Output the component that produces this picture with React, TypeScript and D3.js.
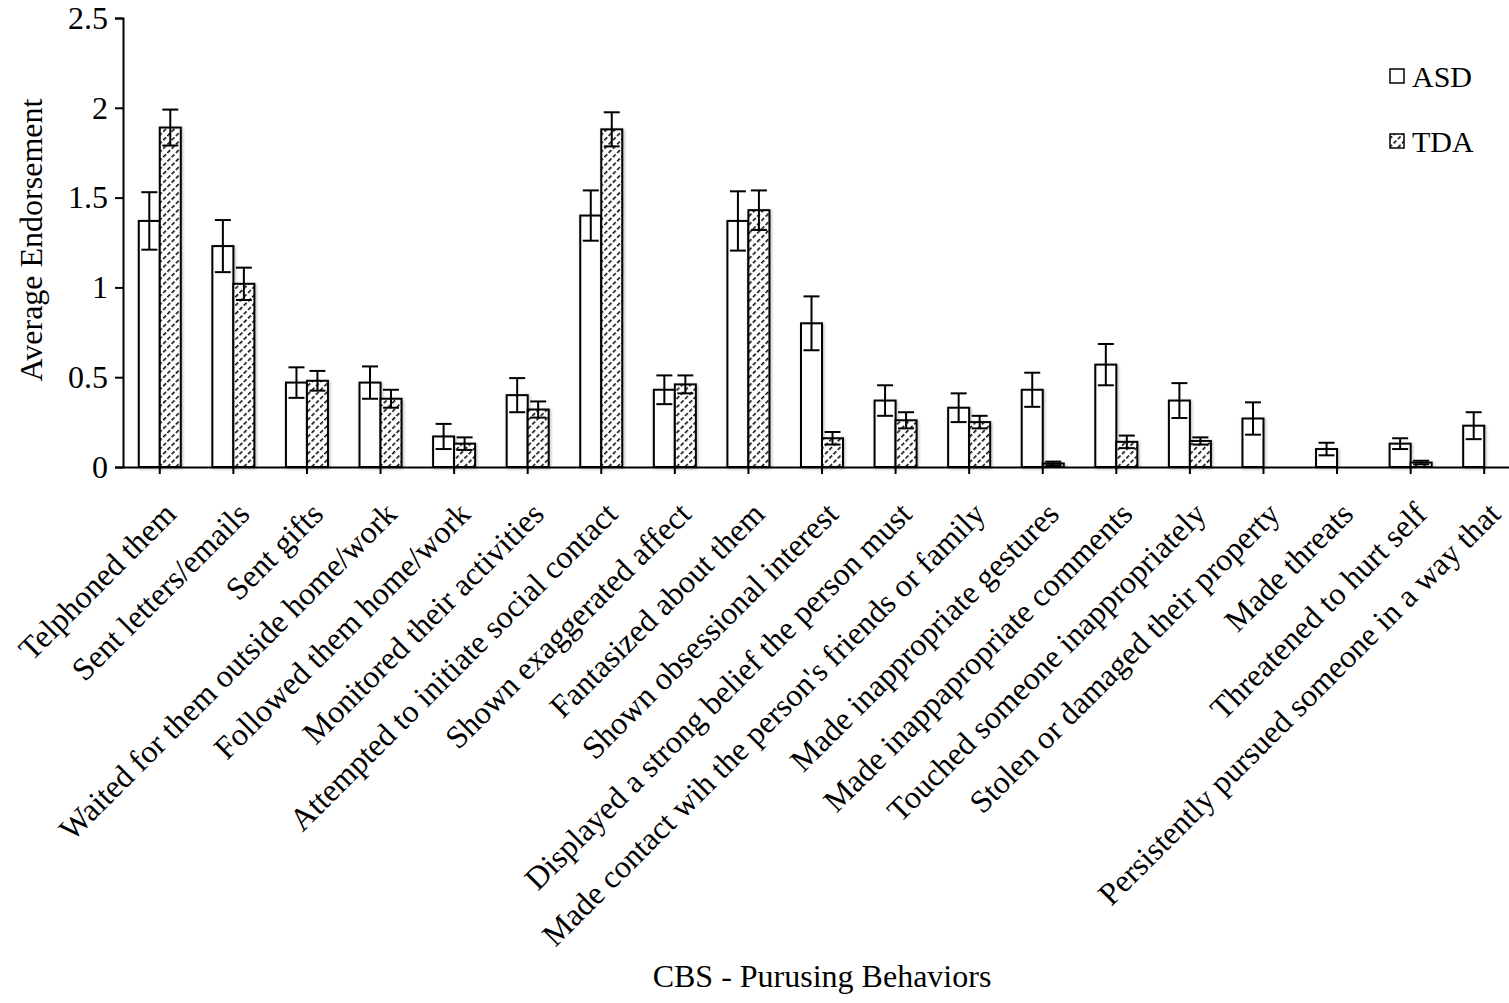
import { useEffect, useRef } from 'react';
import * as d3 from 'd3';

const categories = [
  'Telphoned them',
  'Sent letters/emails',
  'Sent gifts',
  'Waited for them outside home/work',
  'Followed them home/work',
  'Monitored their activities',
  'Attempted to initiate social contact',
  'Shown exaggerated affect',
  'Fantasized about them',
  'Shown obsessional interest',
  'Displayed a strong belief the person must',
  "Made contact wih the person's friends or family",
  'Made inappropriate gestures',
  'Made inappapropriate comments',
  'Touched someone inappropriately',
  'Stolen or damaged their property',
  'Made threats',
  'Threatened to hurt self',
  'Persistently pursued someone in a way that',
];

const asdValues = [1.37, 1.23, 0.47, 0.47, 0.17, 0.4, 1.4, 0.43, 1.37, 0.8, 0.37, 0.33, 0.43, 0.57, 0.37, 0.27, 0.1, 0.13, 0.23];
const asdErrors = [0.16, 0.145, 0.085, 0.09, 0.07, 0.095, 0.14, 0.08, 0.165, 0.15, 0.085, 0.08, 0.095, 0.115, 0.097, 0.09, 0.035, 0.03, 0.075];
const tdaValues = [1.89, 1.02, 0.48, 0.38, 0.13, 0.32, 1.88, 0.46, 1.43, 0.16, 0.26, 0.25, 0.02, 0.14, 0.145, 0, 0, 0.025, 0];
const tdaErrors = [0.1, 0.09, 0.055, 0.05, 0.035, 0.045, 0.095, 0.05, 0.11, 0.035, 0.045, 0.035, 0.01, 0.035, 0.02, 0, 0, 0.01, 0];

const yTicks = [0, 0.5, 1, 1.5, 2, 2.5];
const seriesNames = ['ASD', 'TDA'];
const xTitle = 'CBS - Purusing Behaviors';
const yTitle = 'Average Endorsement';

const FONT = '"Liberation Serif", "Times New Roman", serif';

export default function App() {
  const svgRef = useRef<SVGSVGElement>(null);

  useEffect(() => {
    if (!svgRef.current) return;
    document.body.style.margin = '0';

    const W = 1509;
    const H = 1003;
    // plot area runs past the right edge of the picture (cropped in the original)
    const margin = { top: 18, left: 123 };
    const width = 1398;
    const height = 467 - margin.top;

    const root = d3.select(svgRef.current);
    root.selectAll('*').remove();
    root.attr('width', W).attr('height', H).style('font-family', FONT);

    const defs = root.append('defs');
    const pat = defs
      .append('pattern')
      .attr('id', 'hatch')
      .attr('patternUnits', 'userSpaceOnUse')
      .attr('width', 6)
      .attr('height', 6)
      .attr('patternTransform', 'rotate(45)');
    pat.append('rect').attr('width', 6).attr('height', 6).attr('fill', 'white');
    pat
      .append('line')
      .attr('x1', 0)
      .attr('y1', 0)
      .attr('x2', 0)
      .attr('y2', 6)
      .attr('stroke', 'black')
      .attr('stroke-width', 3)
      .attr('stroke-dasharray', '4,2');

    const shadow = defs
      .append('filter')
      .attr('id', 'shadow')
      .attr('x', '-20%')
      .attr('y', '-20%')
      .attr('width', '140%')
      .attr('height', '140%');
    shadow
      .append('feDropShadow')
      .attr('dx', 1)
      .attr('dy', 1)
      .attr('stdDeviation', 1.5)
      .attr('flood-color', '#000')
      .attr('flood-opacity', 0.3);

    const g = root.append('g').attr('transform', `translate(${margin.left}, ${margin.top})`);

    const x = d3.scaleBand<string>().domain(categories).range([0, width]).padding(0);
    const bw = 21;
    const y = d3.scaleLinear().domain([0, 2.5]).range([height, 0]);

    // y axis
    const yAxis = g
      .append('g')
      .call(d3.axisLeft<number>(y).tickValues(yTicks).tickFormat((d) => `${d}`).tickSize(8).tickPadding(7));
    yAxis.select('.domain').attr('stroke', 'black').attr('stroke-width', 2);
    yAxis.selectAll('line').attr('stroke', 'black').attr('stroke-width', 2);
    yAxis.selectAll('text').style('font-family', FONT).style('font-size', '32px').attr('fill', 'black');

    // x axis
    const xAxis = g
      .append('g')
      .attr('transform', `translate(0, ${height})`)
      .call(d3.axisBottom(x).tickSize(7).tickSizeOuter(0));
    xAxis.select('.domain').attr('stroke', 'black').attr('stroke-width', 2);
    xAxis.selectAll('line').attr('stroke', 'black').attr('stroke-width', 2);
    xAxis
      .selectAll('text')
      .style('font-family', FONT)
      .style('font-size', '32px')
      .attr('fill', 'black')
      .attr('text-anchor', 'end')
      .attr('x', 0)
      .attr('y', 0)
      .attr('dy', 0)
      .attr('transform', 'translate(18, 49) rotate(-45)');

    const series = [
      { values: asdValues, errors: asdErrors, fill: 'white', offset: -bw },
      { values: tdaValues, errors: tdaErrors, fill: 'url(#hatch)', offset: 0 },
    ];

    series.forEach((s) => {
      const grp = g.append('g');
      categories.forEach((c, i) => {
        const v = s.values[i];
        if (v <= 0) return;
        const bx = (x(c) ?? 0) + x.bandwidth() / 2 + s.offset;
        grp
          .append('rect')
          .attr('x', bx)
          .attr('y', y(v))
          .attr('width', bw)
          .attr('height', height - y(v))
          .attr('fill', s.fill)
          .attr('stroke', 'black')
          .attr('stroke-width', 2)
          .attr('filter', 'url(#shadow)');
      });
    });

    series.forEach((s) => {
      const grp = g.append('g').attr('stroke', 'black').attr('stroke-width', 2);
      categories.forEach((c, i) => {
        const v = s.values[i];
        const e = s.errors[i];
        if (v <= 0) return;
        const mx = (x(c) ?? 0) + x.bandwidth() / 2 + s.offset + bw / 2;
        const y1 = y(v + e);
        const y2 = y(v - e);
        grp.append('line').attr('x1', mx).attr('x2', mx).attr('y1', y1).attr('y2', y2);
        grp.append('line').attr('x1', mx - 8).attr('x2', mx + 8).attr('y1', y1).attr('y2', y1);
        grp.append('line').attr('x1', mx - 8).attr('x2', mx + 8).attr('y1', y2).attr('y2', y2);
      });
    });

    // legend
    const legend = root.append('g');
    seriesNames.forEach((name, i) => {
      const ly = 76 + i * 65;
      legend
        .append('rect')
        .attr('x', 1390)
        .attr('y', ly - 7)
        .attr('width', 14)
        .attr('height', 14)
        .attr('fill', i === 0 ? 'white' : 'url(#hatch)')
        .attr('stroke', 'black')
        .attr('stroke-width', 1.5);
      legend
        .append('text')
        .attr('x', 1412)
        .attr('y', ly + 11)
        .style('font-size', '30px')
        .text(name);
    });

    // titles
    root
      .append('text')
      .attr('x', 822)
      .attr('y', 987)
      .attr('text-anchor', 'middle')
      .style('font-size', '32px')
      .text(xTitle);
    root
      .append('text')
      .attr('transform', `translate(42, 240) rotate(-90)`)
      .attr('text-anchor', 'middle')
      .style('font-size', '32px')
      .text(yTitle);
  }, []);

  return <svg ref={svgRef} style={{ display: 'block' }} />;
}
